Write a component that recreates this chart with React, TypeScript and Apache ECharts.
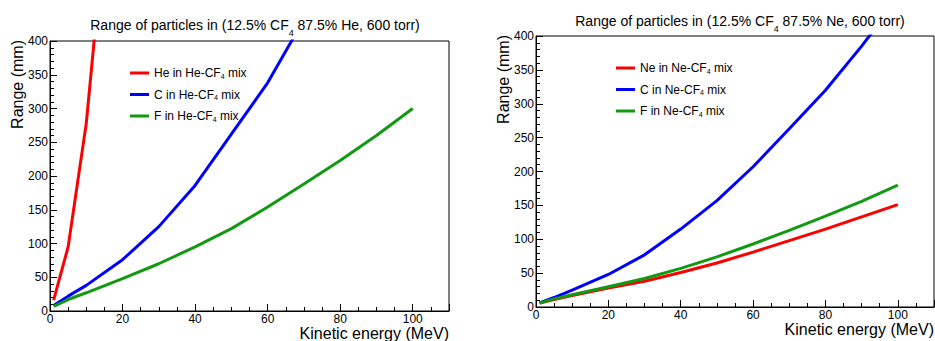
import React, { useEffect, useRef } from "react";
import * as echarts from "echarts";

const FONT = "'Liberation Sans', Arial, Helvetica, sans-serif";

// Left panel: 12.5% CF4 87.5% He
const heInHe: number[][] = [[1, 16], [5, 95], [10, 278], [15, 560]];
const cInHe: number[][] = [[1, 8], [5, 22], [10, 38], [20, 76], [30, 125], [40, 186], [50, 262], [60, 338], [70, 432]];
const fInHe: number[][] = [[1, 7], [5, 17], [10, 27], [20, 48], [30, 70], [40, 95], [50, 122], [60, 154], [70, 188], [80, 223], [90, 260], [100, 300]];

// Right panel: 12.5% CF4 87.5% Ne
const neInNe: number[][] = [[1, 6], [5, 11], [10, 17], [20, 28], [30, 38], [40, 51], [50, 65], [60, 81], [70, 98], [80, 115], [90, 133], [100, 151]];
const cInNe: number[][] = [[1, 6], [5, 14], [10, 25], [20, 48], [30, 77], [40, 115], [50, 157], [60, 207], [70, 263], [80, 320], [90, 385], [100, 455]];
const fInNe: number[][] = [[1, 6], [5, 12], [10, 18], [20, 30], [30, 42], [40, 57], [50, 74], [60, 93], [70, 113], [80, 134], [90, 156], [100, 180]];

const leftNames = ["He in He-CF4 mix", "C in He-CF4 mix", "F in He-CF4 mix"];
const rightNames = ["Ne in Ne-CF4 mix", "C in Ne-CF4 mix", "F in Ne-CF4 mix"];
const leftTitle = ["Range of particles in (12.5% CF", "4", " 87.5% He, 600 torr)"];
const rightTitle = ["Range of particles in (12.5% CF", "4", " 87.5% Ne, 600 torr)"];
const xTitle = "Kinetic energy (MeV)";
const yTitle = "Range (mm)";

const RED = "#ff0000";
const BLUE = "#0000ff";
const GREEN = "#119911";

function legendFmt(name: string) {
  const i = name.indexOf("CF4");
  return `{a|${name.slice(0, i + 2)}}{s|4}{a|${name.slice(i + 3)}}`;
}

function xAxis(gridIndex: number) {
  return {
    type: "value",
    gridIndex,
    min: 0,
    max: 110,
    interval: 20,
    axisLine: { show: true, onZero: false, lineStyle: { color: "#000", width: 1 } },
    axisTick: { show: true, inside: true, length: 7, lineStyle: { color: "#000" } },
    minorTick: { show: true, splitNumber: 4, length: 4, lineStyle: { color: "#000" } },
    splitLine: { show: false },
    axisLabel: { color: "#000", fontSize: 12, lineHeight: 12, fontFamily: FONT, margin: 2, showMaxLabel: false },
  };
}

function yAxis(gridIndex: number) {
  return {
    type: "value",
    gridIndex,
    min: 0,
    max: 400,
    interval: 50,
    axisLine: { show: true, lineStyle: { color: "#000", width: 1 } },
    axisTick: { show: true, inside: true, length: 7, lineStyle: { color: "#000" } },
    minorTick: { show: true, splitNumber: 5, length: 4, lineStyle: { color: "#000" } },
    splitLine: { show: false },
    axisLabel: { color: "#000", fontSize: 12, fontFamily: FONT, margin: 2 },
  };
}

function line(name: string, data: number[][], color: string, idx: number) {
  return {
    type: "line",
    name,
    data,
    xAxisIndex: idx,
    yAxisIndex: idx,
    showSymbol: false,
    symbol: "none",
    clip: true,
    lineStyle: { color, width: 3 },
    itemStyle: { color },
  };
}

function titleText(parts: string[]) {
  return `{a|${parts[0]}}{s|${parts[1]}}{a|${parts[2]}}`;
}

const titleRich = {
  a: { fontSize: 14, fontFamily: FONT, color: "#000", fontWeight: "normal" },
  s: { fontSize: 9, fontFamily: FONT, color: "#000", fontWeight: "normal", padding: [16, 0, 0, 0] },
};

const legendRich = {
  a: { fontSize: 12, fontFamily: FONT, color: "#000" },
  s: { fontSize: 7, fontFamily: FONT, color: "#000", padding: [6, 0, 0, 0] },
};

export default function App() {
  const ref = useRef<HTMLDivElement>(null);
  useEffect(() => {
    if (!ref.current) return;
    const chart = echarts.init(ref.current, undefined, { renderer: "svg" });
    chart.setOption({
      animation: false,
      backgroundColor: "#fff",
      title: [
        { text: titleText(leftTitle), left: 250, top: 7, textAlign: "center", textStyle: { fontWeight: "normal", rich: titleRich } },
        { text: titleText(rightTitle), left: 735, top: 3, textAlign: "center", textStyle: { fontWeight: "normal", rich: titleRich } },
      ],
      legend: [
        {
          data: leftNames,
          orient: "vertical",
          left: 125,
          top: 62,
          icon: "rect",
          itemWidth: 19,
          itemHeight: 3,
          itemGap: 9,
          formatter: legendFmt,
          textStyle: { rich: legendRich },
          selectedMode: false,
        },
        {
          data: rightNames,
          orient: "vertical",
          left: 611,
          top: 57,
          icon: "rect",
          itemWidth: 19,
          itemHeight: 3,
          itemGap: 9,
          formatter: legendFmt,
          textStyle: { rich: legendRich },
          selectedMode: false,
        },
      ],
      grid: [
        { left: 50, top: 41, width: 399, height: 270, show: true, borderColor: "#000", borderWidth: 1, backgroundColor: "transparent" },
        { left: 536, top: 36, width: 398, height: 271, show: true, borderColor: "#000", borderWidth: 1, backgroundColor: "transparent" },
      ],
      xAxis: [xAxis(0), xAxis(1)],
      yAxis: [yAxis(0), yAxis(1)],
      series: [
        line(leftNames[0], heInHe, RED, 0),
        line(leftNames[1], cInHe, BLUE, 0),
        line(leftNames[2], fInHe, GREEN, 0),
        line(rightNames[0], neInNe, RED, 1),
        line(rightNames[1], cInNe, BLUE, 1),
        line(rightNames[2], fInNe, GREEN, 1),
      ],
      graphic: [
        { type: "text", x: 17, y: 40, rotation: Math.PI / 2, style: { text: yTitle, font: `16px ${FONT}`, fill: "#000", textAlign: "right", textVerticalAlign: "middle" } },
        { type: "text", x: 503, y: 35, rotation: Math.PI / 2, style: { text: yTitle, font: `16px ${FONT}`, fill: "#000", textAlign: "right", textVerticalAlign: "middle" } },
        { type: "text", x: 449, y: 333, style: { text: xTitle, font: `16px ${FONT}`, lineHeight: 14, fill: "#000", textAlign: "right", textVerticalAlign: "middle" } },
        { type: "text", x: 934, y: 329, style: { text: xTitle, font: `16px ${FONT}`, lineHeight: 14, fill: "#000", textAlign: "right", textVerticalAlign: "middle" } },
      ],
    });
    return () => chart.dispose();
  }, []);
  return <div ref={ref} style={{ position: "absolute", left: 0, top: 0, width: 935, height: 341 }} />;
}
